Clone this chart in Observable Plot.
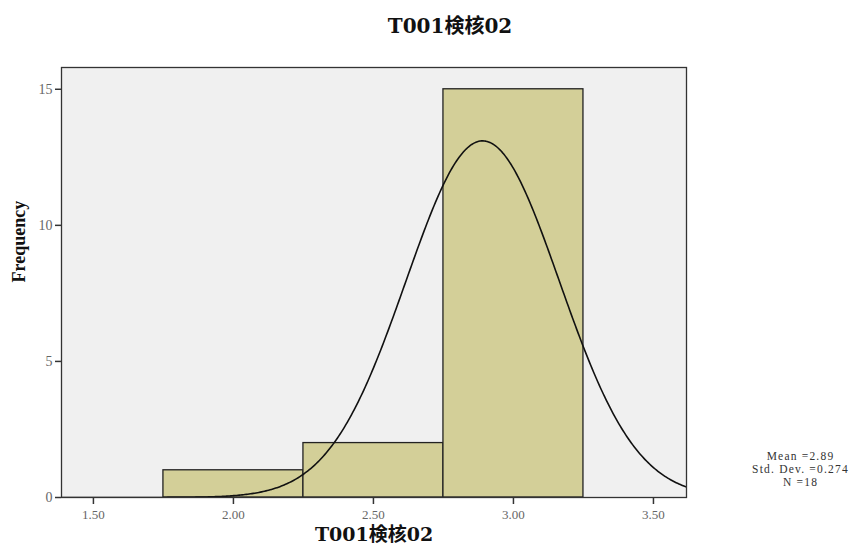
<!DOCTYPE html>
<html>
<head>
<meta charset="utf-8">
<script src="https://cdn.jsdelivr.net/npm/d3@7"></script>
<script src="https://cdn.jsdelivr.net/npm/@observablehq/plot@0.6"></script>
<style>
  body { margin: 0; background: #fff; }
  #chart svg { display: block; }
</style>
</head>
<body>
<div id="chart"></div>
<script>
// Data
const binStarts = [1.75, 2.25, 2.75];
const binEnds = [2.25, 2.75, 3.25];
const counts = [1, 2, 15];
const mean = 2.89;
const stdDev = 0.274;
const n = 18;
const xTicks = [1.5, 2.0, 2.5, 3.0, 3.5];
const yTicks = [0, 5, 10, 15];
const title = "T001検核02";
const xLabel = "T001検核02";
const yLabel = "Frequency";
const statsLines = ["Mean =2.89", "Std. Dev. =0.274", "N =18"];

const bins = counts.map((c, i) => ({x1: binStarts[i], x2: binEnds[i], y: c}));
const binWidth = binEnds[0] - binStarts[0];
const xDomain = [1.386, 3.618];
const curve = d3.range(xDomain[0], xDomain[1] + 0.001, 0.005).map(x => ({
  x,
  y: n * binWidth / (stdDev * Math.sqrt(2 * Math.PI)) * Math.exp(-0.5 * ((x - mean) / stdDev) ** 2)
}));

const serif = "'Liberation Serif', 'Noto Sans CJK TC', serif";
const boldSerif = "'DejaVu Serif', 'Noto Sans CJK TC', serif";

const chart = Plot.plot({
  width: 861,
  height: 551,
  marginLeft: 61,
  marginRight: 175,
  marginTop: 67,
  marginBottom: 54,
  style: {fontFamily: serif, background: "#fff"},
  x: {domain: xDomain, ticks: xTicks, tickFormat: d3.format(".2f")},
  y: {domain: [0, 15.8], ticks: yTicks},
  marks: [
    Plot.frame({fill: "#f0f0f0", stroke: "none"}),
    Plot.rectY(bins, {x1: "x1", x2: "x2", y: "y", fill: "#d3cf98", stroke: "#222", strokeWidth: 1.3}),
    Plot.line(curve, {x: "x", y: "y", stroke: "#111", strokeWidth: 1.6, clip: true}),
    Plot.frame({stroke: "#333", strokeWidth: 1.3}),
    Plot.axisX({ticks: xTicks, tickFormat: d3.format(".2f"), tickSize: 7, tickPadding: 5, stroke: "#333", fill: "#666", fontSize: 13, label: null, strokeWidth: 1.5}),
    Plot.axisY({ticks: yTicks, tickSize: 6, tickPadding: 3, stroke: "#333", fill: "#666", fontSize: 14, label: null, strokeWidth: 1.5}),
    Plot.text([title], {frameAnchor: "top", dy: -49, dx: 76, text: d => d, fontSize: 20, fontWeight: "bold", fill: "#111", fontFamily: boldSerif}),
    Plot.text([xLabel], {frameAnchor: "bottom", dy: 43, text: d => d, fontSize: 19, fontWeight: "bold", fill: "#111", fontFamily: boldSerif}),
    Plot.text([yLabel], {frameAnchor: "left", dx: -42, text: d => d, fontSize: 18, fontWeight: "bold", fill: "#111", rotate: -90}),
    Plot.text([statsLines[0]], {frameAnchor: "bottom-right", dx: 114, dy: -38, text: d => d, textAnchor: "middle", fontSize: 11.5, fill: "#333"}),
    Plot.text([statsLines[1]], {frameAnchor: "bottom-right", dx: 114, dy: -25, text: d => d, textAnchor: "middle", fontSize: 11.5, fill: "#333"}),
    Plot.text([statsLines[2]], {frameAnchor: "bottom-right", dx: 114, dy: -12, text: d => d, textAnchor: "middle", fontSize: 11.5, fill: "#333"})
  ]
});
d3.select(chart).selectAll("text")
  .filter(function() { return statsLines.includes(this.textContent); })
  .style("letter-spacing", "1.2px");
document.getElementById("chart").appendChild(chart);
</script>
</body>
</html>
